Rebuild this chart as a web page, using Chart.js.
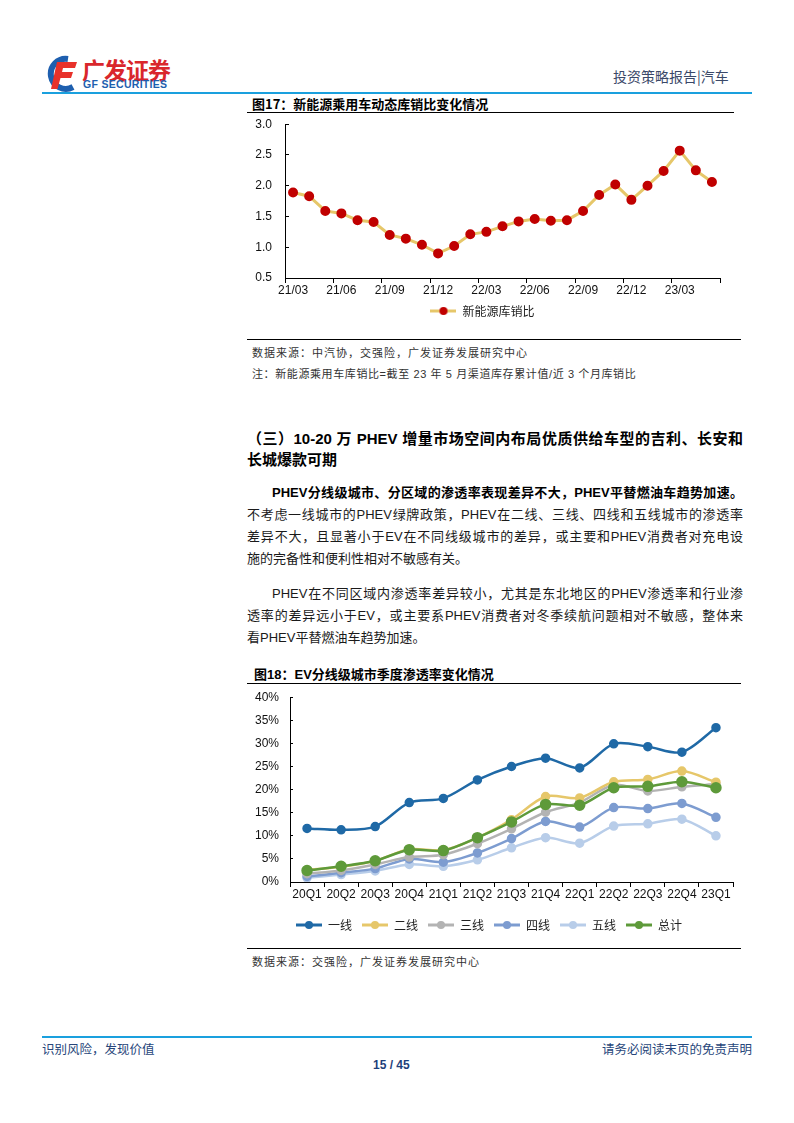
<!DOCTYPE html>
<html>
<head>
<meta charset="utf-8">
<script src="https://cdn.jsdelivr.net/npm/chart.js@4.4.0/dist/chart.umd.min.js"></script>
<style>
body{margin:0;width:794px;height:1123px;position:relative;background:#fff;overflow:hidden;
  font-family:"Liberation Sans","Noto Sans CJK SC",sans-serif;color:#111}
.a{position:absolute;white-space:nowrap}
.rule{position:absolute;height:0}
.jl{text-align:justify;text-align-last:justify;width:496px;height:22px;line-height:22px;overflow:hidden}
.ll{height:22px;line-height:22px}
canvas{position:absolute}
</style>
</head>
<body>

<!-- header -->
<svg class="a" style="left:44px;top:55px" width="34" height="38" viewBox="0 0 34 38">
  <path d="M24 4 A15 15 0 1 0 29 32" fill="none" stroke="#1E5FAF" stroke-width="6"/>
  <path d="M13 7 H33 L31 13 H19 L18 17 H29 L27 23 H16.5 L13.5 34 H7 Z" fill="#E8312A"/>
</svg>
<div class="a" style="left:82px;top:52px;font-size:23px;font-weight:bold;color:#D9262C;letter-spacing:-1px;font-family:'Noto Sans CJK SC'">广发证券</div>
<div class="a" style="left:83px;top:78px;font-size:10.5px;font-weight:bold;color:#1E5FAF;letter-spacing:0.3px">GF SECURITIES</div>
<div class="a" style="left:613px;top:66px;font-size:14px;color:#3A4868;font-family:'Noto Sans CJK SC'">投资策略报告|汽车</div>
<div class="rule" style="left:42px;top:92px;width:710px;border-top:2px solid #1AA0DE"></div>

<!-- figure 17 -->
<div class="a" style="left:252px;top:94px;font-size:13px;font-weight:bold;color:#000;font-family:'Noto Sans CJK SC'">图17：新能源乘用车动态库销比变化情况</div>
<div class="rule" style="left:247px;top:112px;width:487px;border-top:1.5px solid #000"></div>
<canvas id="c1" width="490" height="227" style="left:245px;top:100px"></canvas>
<div class="rule" style="left:247px;top:339px;width:494px;border-top:1.5px solid #000"></div>
<div class="a" style="left:252px;top:344px;font-size:11px;letter-spacing:1px;color:#333;font-family:'Noto Sans CJK SC'">数据来源：中汽协，交强险，广发证券发展研究中心</div>
<div class="a" style="left:252px;top:365px;font-size:11px;letter-spacing:0.6px;color:#333;font-family:'Liberation Sans','Noto Sans CJK SC'">注：新能源乘用车库销比=截至 23 年 5 月渠道库存累计值/近 3 个月库销比</div>

<!-- section text -->
<div class="a" style="left:247px;top:428px;font-size:15px;font-weight:bold;color:#000;white-space:normal">
  <div class="jl" style="height:21px;line-height:21px">（三）10-20 万 PHEV 增量市场空间内布局优质供给车型的吉利、长安和</div>
  <div class="ll" style="height:21px;line-height:21px">长城爆款可期</div>
</div>
<div class="a" style="left:247px;top:482px;font-size:13px;color:#1a1a1a;white-space:normal">
  <div class="jl" style="margin-left:25px;width:471px;font-weight:bold;color:#000">PHEV分线级城市、分区域的渗透率表现差异不大，PHEV平替燃油车趋势加速。</div>
  <div class="jl">不考虑一线城市的PHEV绿牌政策，PHEV在二线、三线、四线和五线城市的渗透率</div>
  <div class="jl">差异不大，且显著小于EV在不同线级城市的差异，或主要和PHEV消费者对充电设</div>
  <div class="ll">施的完备性和便利性相对不敏感有关。</div>
</div>
<div class="a" style="left:247px;top:583px;font-size:13px;color:#1a1a1a;white-space:normal">
  <div class="jl" style="margin-left:25px;width:471px">PHEV在不同区域内渗透率差异较小，尤其是东北地区的PHEV渗透率和行业渗</div>
  <div class="jl">透率的差异远小于EV，或主要系PHEV消费者对冬季续航问题相对不敏感，整体来</div>
  <div class="ll">看PHEV平替燃油车趋势加速。</div>
</div>

<!-- figure 18 -->
<div class="a" style="left:254px;top:664px;font-size:13px;font-weight:bold;color:#000;font-family:'Liberation Sans','Noto Sans CJK SC'">图18：EV分线级城市季度渗透率变化情况</div>
<div class="rule" style="left:247px;top:683px;width:494px;border-top:1.5px solid #000"></div>
<canvas id="c2" width="495" height="265" style="left:245px;top:676px"></canvas>
<div class="rule" style="left:247px;top:948px;width:494px;border-top:1.5px solid #000"></div>
<div class="a" style="left:252px;top:953px;font-size:11px;letter-spacing:1px;color:#333;font-family:'Noto Sans CJK SC'">数据来源：交强险，广发证券发展研究中心</div>

<!-- footer -->
<div class="rule" style="left:42px;top:1036px;width:710px;border-top:2px solid #1AA0DE"></div>
<div class="a" style="left:42px;top:1039px;font-size:12.5px;color:#27467A;font-family:'Noto Sans CJK SC'">识别风险，发现价值</div>
<div class="a" style="left:602px;top:1039px;font-size:12.5px;color:#27467A;font-family:'Noto Sans CJK SC'">请务必阅读末页的免责声明</div>
<div class="a" style="left:373px;top:1058px;font-size:12px;font-weight:bold;color:#1E3F7A">15 / 45</div>

<script>
// figure 17 data
const months = ['21/03','21/04','21/05','21/06','21/07','21/08','21/09','21/10','21/11','21/12',
  '22/01','22/02','22/03','22/04','22/05','22/06','22/07','22/08','22/09','22/10','22/11','22/12',
  '23/01','23/02','23/03','23/04','23/05'];
const stockRatio = [1.89, 1.83, 1.59, 1.55, 1.44, 1.41, 1.20, 1.14, 1.04, 0.90,
  1.02, 1.21, 1.25, 1.34, 1.42, 1.46, 1.43, 1.44, 1.59, 1.85, 2.02, 1.77,
  2.00, 2.24, 2.57, 2.25, 2.06];

// figure 18 data (%)
const quarters = ['20Q1','20Q2','20Q3','20Q4','21Q1','21Q2','21Q3','21Q4','22Q1','22Q2','22Q3','22Q4','23Q1'];
const tier1 = [11.6, 11.3, 12.0, 17.2, 18.1, 22.1, 25.0, 26.8, 24.7, 29.9, 29.3, 28.1, 33.4];
const tier2 = [2.6, 3.3, 4.6, 7.1, 6.9, 9.6, 13.5, 18.5, 18.2, 21.7, 22.2, 24.0, 21.6];
const tier3 = [1.8, 2.5, 3.8, 5.4, 5.9, 8.3, 11.5, 15.1, 17.2, 21.0, 19.7, 20.6, 21.2];
const tier4 = [1.2, 2.0, 2.9, 5.0, 4.3, 6.3, 9.4, 13.1, 11.9, 16.1, 15.9, 17.0, 14.0];
const tier5 = [0.9, 1.6, 2.4, 3.8, 3.4, 4.8, 7.4, 9.6, 8.4, 12.1, 12.6, 13.6, 10.0];
const total = [2.5, 3.4, 4.6, 7.0, 6.8, 9.6, 13.0, 16.8, 16.6, 20.4, 20.7, 21.7, 20.4];

const tickFont = {family: 'Liberation Sans', size: 12};
const legendFont = {family: 'Noto Sans CJK SC', size: 12};

function legendMark(lineColor, dotColor) {
    const c = document.createElement('canvas');
    c.width = 26;
    c.height = 10;
    const g = c.getContext('2d');
    g.strokeStyle = lineColor;
    g.lineWidth = 3;
    g.beginPath();
    g.moveTo(0, 5);
    g.lineTo(26, 5);
    g.stroke();
    g.fillStyle = dotColor;
    g.beginPath();
    g.arc(13, 5, 4, 0, Math.PI * 2);
    g.fill();
    return c;
}

function markLabels(marks) {
    return chart => Chart.defaults.plugins.legend.labels.generateLabels(chart)
        .map(l => Object.assign(l, {pointStyle: marks[l.datasetIndex]}));
}

// ---- chart 1
const gold = '#E6C76A';
const red = '#C00000';
new Chart(document.getElementById('c1'), {
    type: 'line',
    data: {
        labels: months,
        datasets: [{
            label: '新能源库销比',
            data: stockRatio,
            borderColor: gold,
            borderWidth: 3,
            pointBackgroundColor: red,
            pointBorderColor: red,
            pointRadius: 3.5,
            tension: 0
        }]
    },
    options: {
        responsive: false,
        animation: false,
        devicePixelRatio: 1,
        layout: {padding: {top: 8, right: 15, left: 0, bottom: 0}},
        scales: {
            x: {
                offset: true,
                grid: {
                    offset: true,
                    drawOnChartArea: false,
                    tickLength: 5,
                    color: ctx => (ctx.index === undefined || ctx.index % 3 === 0) ? '#000' : 'rgba(0,0,0,0)'
                },
                border: {color: '#000'},
                ticks: {
                    autoSkip: false,
                    maxRotation: 0,
                    padding: 0,
                    color: '#111',
                    font: tickFont,
                    callback: (v, i) => i % 3 === 0 ? months[i] : ''
                },
                afterFit: s => { s.height = 21; }
            },
            y: {
                min: 0.5,
                max: 3.0,
                grid: {drawOnChartArea: false, tickLength: -4, color: '#000'},
                border: {color: '#000'},
                ticks: {
                    stepSize: 0.5,
                    padding: 17,
                    color: '#111',
                    font: tickFont,
                    callback: v => v.toFixed(1)
                },
                afterFit: s => { s.width = 40; }
            }
        },
        plugins: {
            legend: {
                position: 'bottom',
                labels: {
                    usePointStyle: true,
                    pointStyleWidth: 26,
                    padding: 6,
                    color: '#222',
                    font: legendFont,
                    generateLabels: markLabels([legendMark(gold, red)])
                }
            },
            tooltip: {enabled: false}
        }
    }
});

// ---- chart 2
const seriesNames = ['一线', '二线', '三线', '四线', '五线', '总计'];
const seriesColors = ['#1F69A6', '#E6C76A', '#B3B3B3', '#7D9CD0', '#B8CDE9', '#5E9A3A'];
const seriesData = [tier1, tier2, tier3, tier4, tier5, total];
const drawOrder = [0, 2, 3, 4, 5, 1];

new Chart(document.getElementById('c2'), {
    type: 'line',
    data: {
        labels: quarters,
        datasets: seriesData.map((d, i) => ({
            label: seriesNames[i],
            data: d,
            order: drawOrder[i],
            borderColor: seriesColors[i],
            backgroundColor: seriesColors[i],
            borderWidth: 2.5,
            pointRadius: i === 5 ? 4.5 : 3.5,
            pointBackgroundColor: seriesColors[i],
            pointBorderColor: seriesColors[i],
            tension: 0.3
        }))
    },
    options: {
        responsive: false,
        animation: false,
        devicePixelRatio: 1,
        layout: {padding: {top: 8, right: 7, left: 0, bottom: 0}},
        scales: {
            x: {
                offset: true,
                grid: {offset: true, drawOnChartArea: false, tickLength: 5, color: '#000'},
                border: {color: '#000'},
                ticks: {autoSkip: false, maxRotation: 0, padding: 0, color: '#111', font: tickFont},
                afterFit: s => { s.height = 27; }
            },
            y: {
                min: 0,
                max: 40,
                grid: {drawOnChartArea: false, tickLength: -3, color: '#000'},
                border: {color: '#000'},
                ticks: {
                    stepSize: 5,
                    padding: 14,
                    color: '#111',
                    font: tickFont,
                    callback: v => v + '%'
                },
                afterFit: s => { s.width = 45; }
            }
        },
        plugins: {
            legend: {
                position: 'bottom',
                labels: {
                    usePointStyle: true,
                    pointStyleWidth: 26,
                    padding: 10,
                    color: '#222',
                    font: legendFont,
                    sort: (a, b) => a.datasetIndex - b.datasetIndex,
                    generateLabels: markLabels(seriesColors.map(c => legendMark(c, c)))
                }
            },
            tooltip: {enabled: false}
        }
    }
});
</script>
</body>
</html>
